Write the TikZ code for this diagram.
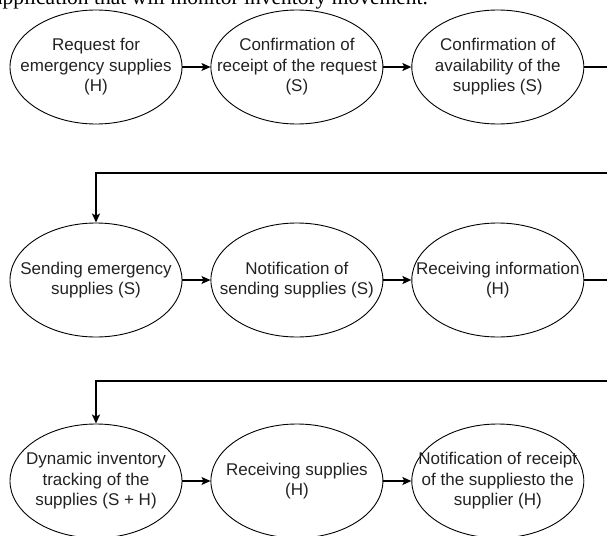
\documentclass[tikz,border=0pt]{standalone}
\usepackage{fontspec}
\setmainfont{Liberation Sans}
\newfontfamily\pageserif{Liberation Serif}
\usepackage{xcolor}
\usepackage{tikz}
\usetikzlibrary{positioning, arrows.meta, calc, shapes.geometric}
\definecolor{inkgray}{HTML}{222222}

\tikzset{
  stage/.style={ellipse, draw, line width=0.9pt, minimum width=172pt, minimum height=114pt,
    inner xsep=-30pt, inner ysep=-20pt, align=center, text=inkgray,
    font=\fontsize{17}{20.5}\selectfont},
  flow/.style={line width=1.3pt, -{Stealth[length=9pt, width=8pt, inset=2pt]}}
}

\begin{document}
\begin{tikzpicture}[x=1pt, y=-1pt]
    \useasboundingbox (0,0) rectangle (607,535);
    \clip (0,0) rectangle (607,535);
    % end of the page text above the figure
    \node[anchor=base west, inner sep=0pt, font=\pageserif\fontsize{21.5}{24}\selectfont] (caption) at (-7,5) {application that will monitor inventory movement.};

    \node[stage] (a1) at (96,67) {Request for\\emergency supplies\\(H)};
    \node[stage, right=28pt of a1] (a2) {Confirmation of\\receipt of the request\\(S)};
    \node[stage, right=28pt of a2] (a3) {Confirmation of\\availability of the\\supplies (S)};

    \node[stage] (b1) at (96,280) {Sending emergency\\supplies (S)};
    \node[stage, right=28pt of b1] (b2) {Notification of\\sending supplies (S)};
    \node[stage, right=28pt of b2] (b3) {Receiving information\\(H)};

    \node[stage] (c1) at (96,481) {Dynamic inventory\\tracking of the\\supplies (S + H)};
    \node[stage, right=28pt of c1] (c2) {Receiving supplies\\(H)};
    \node[stage, right=28pt of c2] (c3) {Notification of receipt\\of the suppliesto the\\supplier (H)};

    \coordinate (wrap1) at (630,173);
    \coordinate (wrap2) at (630,381);

    \draw[flow] (a1) -- (a2);
    \draw[flow] (a2) -- (a3);
    \draw[flow] (a3.east) -| (wrap1) -| (b1.north);
    \draw[flow] (b1) -- (b2);
    \draw[flow] (b2) -- (b3);
    \draw[flow] (b3.east) -| (wrap2) -| (c1.north);
    \draw[flow] (c1) -- (c2);
    \draw[flow] (c2) -- (c3);
\end{tikzpicture}
\end{document}
